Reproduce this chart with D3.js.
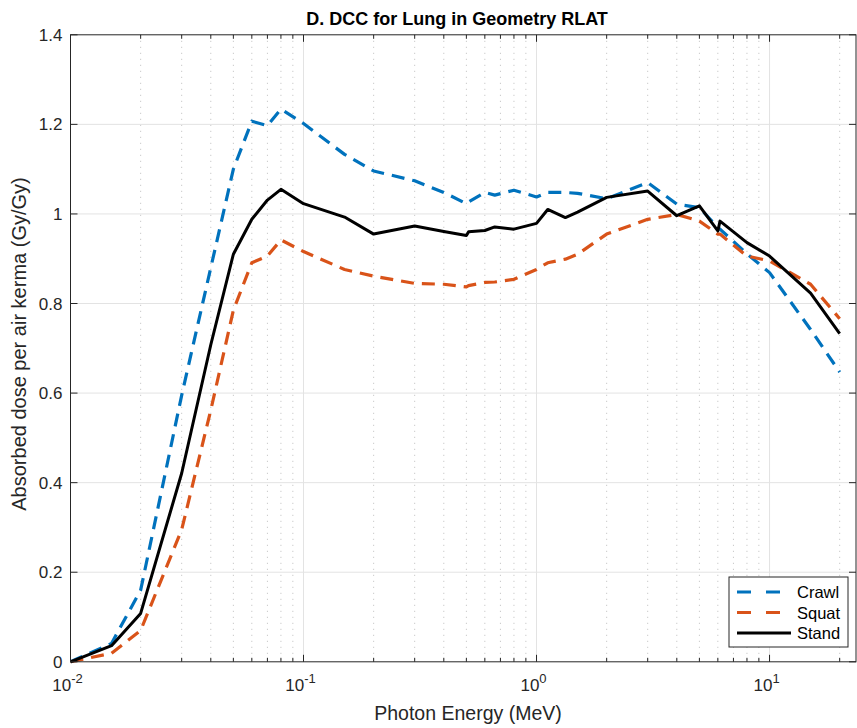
<!DOCTYPE html>
<html>
<head>
<meta charset="utf-8">
<script src="https://cdn.jsdelivr.net/npm/d3@7"></script>
<style>
  body { margin: 0; background: #fff; }
  text { font-family: "Liberation Sans", Arial, Helvetica, sans-serif; }
</style>
</head>
<body>
<svg width="857" height="728"></svg>
<script>
// photon energies (MeV)
const energy = [0.01, 0.015, 0.02, 0.03, 0.04, 0.05, 0.06, 0.07, 0.08, 0.1, 0.15, 0.2, 0.3, 0.4, 0.5, 0.511,
  0.6, 0.662, 0.8, 1, 1.117, 1.33, 1.5, 2, 3, 4, 5, 6, 6.129, 8, 10, 15, 20];

const crawl = [0, 0.041, 0.16, 0.595, 0.88, 1.10, 1.207, 1.197, 1.234, 1.202, 1.133, 1.096, 1.074, 1.048, 1.023, 1.027,
  1.048, 1.042, 1.053, 1.038, 1.048, 1.048, 1.046, 1.034, 1.070, 1.022, 1.014, 0.970, 0.966, 0.911, 0.869, 0.742, 0.647];

const squat = [0, 0.019, 0.07, 0.295, 0.562, 0.785, 0.891, 0.906, 0.942, 0.916, 0.876, 0.861, 0.845, 0.843, 0.837, 0.840,
  0.847, 0.848, 0.854, 0.876, 0.891, 0.899, 0.910, 0.955, 0.988, 0.999, 0.984, 0.955, 0.955, 0.906, 0.895, 0.843, 0.766];

const stand = [0, 0.036, 0.108, 0.421, 0.708, 0.910, 0.988, 1.031, 1.055, 1.023, 0.993, 0.955, 0.973, 0.961, 0.952, 0.960,
  0.963, 0.971, 0.966, 0.979, 1.010, 0.992, 1.004, 1.037, 1.051, 0.996, 1.018, 0.962, 0.984, 0.936, 0.906, 0.823, 0.733];

const seriesNames = ["Crawl", "Squat", "Stand"];
const yTicks = [0, 0.2, 0.4, 0.6, 0.8, 1, 1.2, 1.4];
const xMajor = [0.01, 0.1, 1, 10];
const xExp = ["-2", "-1", "0", "1"];

const svg = d3.select("svg");
const mLeft = 70.5, mRight = 856, mTop = 34.8, mBottom = 661.8;

let x = d3.scaleLog().domain([0.01, 23.5]).range([mLeft, mRight]);
let y = d3.scaleLinear().domain([0, 1.4]).range([mBottom, mTop]);

// minor x values 2..9 per decade
let xMinor = [];
[0.01, 0.1, 1, 10].forEach(function (d) {
  for (let k = 2; k <= 9; k++) {
    if (d * k < 23.5) xMinor.push(d * k);
  }
});

let grid = svg.append("g");
grid.selectAll("line.minor")
  .data(xMinor)
  .enter()
  .append("line")
  .attr("x1", d => x(d)).attr("x2", d => x(d))
  .attr("y1", mTop).attr("y2", mBottom)
  .attr("stroke", "#bdbdbd")
  .attr("stroke-width", 1)
  .attr("stroke-dasharray", "1,5");

grid.selectAll("line.majx")
  .data(xMajor.slice(1))
  .enter()
  .append("line")
  .attr("x1", d => x(d)).attr("x2", d => x(d))
  .attr("y1", mTop).attr("y2", mBottom)
  .attr("stroke", "#e3e3e3");

grid.selectAll("line.majy")
  .data(yTicks.slice(1, -1))
  .enter()
  .append("line")
  .attr("x1", mLeft).attr("x2", mRight)
  .attr("y1", d => y(d)).attr("y2", d => y(d))
  .attr("stroke", "#e3e3e3");

// series
let series = [
  { name: "Crawl", vals: crawl, color: "#0072BD", dash: "13,8", w: 3.2 },
  { name: "Squat", vals: squat, color: "#D95319", dash: "13,8", w: 3.2 },
  { name: "Stand", vals: stand, color: "#000000", dash: null, w: 3 }
];

let line = d3.line()
  .x(d => x(d[0]))
  .y(d => y(d[1]));

svg.append("g")
  .selectAll("path")
  .data(series)
  .enter()
  .append("path")
  .attr("d", d => line(energy.map((e, i) => [e, d.vals[i]])))
  .attr("fill", "none")
  .attr("stroke", d => d.color)
  .attr("stroke-width", d => d.w)
  .attr("stroke-dasharray", d => d.dash)
  .attr("stroke-linejoin", "round");

// axes frame and ticks
let axis = svg.append("g").attr("stroke", "#262626");
axis.append("rect")
  .attr("x", mLeft).attr("y", mTop)
  .attr("width", mRight - mLeft).attr("height", mBottom - mTop)
  .attr("fill", "none").attr("stroke-width", 1);

xMajor.forEach(function (d) {
  axis.append("line").attr("x1", x(d)).attr("x2", x(d)).attr("y1", mBottom).attr("y2", mBottom - 7);
  axis.append("line").attr("x1", x(d)).attr("x2", x(d)).attr("y1", mTop).attr("y2", mTop + 7);
});
xMinor.forEach(function (d) {
  axis.append("line").attr("x1", x(d)).attr("x2", x(d)).attr("y1", mBottom).attr("y2", mBottom - 4);
  axis.append("line").attr("x1", x(d)).attr("x2", x(d)).attr("y1", mTop).attr("y2", mTop + 4);
});
yTicks.forEach(function (d) {
  axis.append("line").attr("x1", mLeft).attr("x2", mLeft + 7).attr("y1", y(d)).attr("y2", y(d));
  axis.append("line").attr("x1", mRight).attr("x2", mRight - 7).attr("y1", y(d)).attr("y2", y(d));
});

// tick labels
svg.append("g")
  .selectAll("text")
  .data(yTicks)
  .enter()
  .append("text")
  .attr("x", mLeft - 8)
  .attr("y", d => y(d) + 6)
  .attr("text-anchor", "end")
  .attr("font-size", 17)
  .attr("fill", "#262626")
  .text(d => d3.format("~g")(d));

let xl = svg.append("g")
  .selectAll("text")
  .data(xMajor)
  .enter()
  .append("text")
  .attr("x", d => x(d) - 3)
  .attr("y", 691)
  .attr("text-anchor", "middle")
  .attr("font-size", 17)
  .attr("fill", "#262626");
xl.append("tspan").text("10");
xl.append("tspan")
  .attr("dy", -8)
  .attr("font-size", 13)
  .text((d, i) => xExp[i]);

// titles
svg.append("text")
  .attr("x", 457).attr("y", 25)
  .attr("text-anchor", "middle")
  .attr("font-size", 18)
  .attr("font-weight", "bold")
  .attr("fill", "#000")
  .style("font-family", "'Liberation Sans Narrow', 'Liberation Sans', sans-serif")
  .text("D. DCC for Lung in Geometry RLAT");

svg.append("text")
  .attr("x", 468).attr("y", 720)
  .attr("text-anchor", "middle")
  .attr("font-size", 19.5)
  .attr("fill", "#262626")
  .text("Photon Energy (MeV)");

svg.append("text")
  .attr("transform", "translate(26,344) rotate(-90)")
  .attr("text-anchor", "middle")
  .attr("font-size", 20)
  .attr("fill", "#262626")
  .text("Absorbed dose per air kerma (Gy/Gy)");

// legend
let lg = svg.append("g").attr("transform", "translate(729,577)");
lg.append("rect")
  .attr("width", 119).attr("height", 70)
  .attr("fill", "#fff").attr("stroke", "#262626");
series.forEach(function (s, i) {
  let ly = 15 + i * 20.5;
  lg.append("line")
    .attr("x1", 8).attr("x2", 62)
    .attr("y1", ly).attr("y2", ly)
    .attr("stroke", s.color)
    .attr("stroke-width", s.w)
    .attr("stroke-dasharray", s.dash ? "14,15" : null);
  lg.append("text")
    .attr("x", 68).attr("y", ly + 6)
    .attr("font-size", 16.5)
    .attr("fill", "#000")
    .text(seriesNames[i]);
});
</script>
</body>
</html>
